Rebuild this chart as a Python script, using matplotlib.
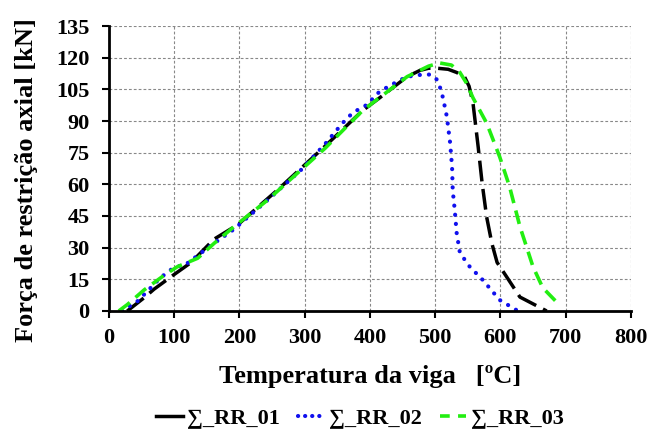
import matplotlib.pyplot as plt

plt.rcParams['font.family'] = ['Liberation Serif', 'DejaVu Serif']
plt.rcParams['font.weight'] = 'bold'
plt.rcParams['lines.scale_dashes'] = False

# temperature [C] / force [kN]
t_rr01 = [28, 54, 69, 100, 126, 161, 198, 259, 331, 389, 415, 457, 477, 490, 503, 520, 533, 545, 552, 558, 566, 572, 579, 587, 595, 610, 630, 671]
f_rr01 = [0, 6.3, 10.3, 17.3, 23, 34, 41, 57.5, 78, 95, 101, 111, 114, 115, 115, 114.5, 113, 111, 106.5, 98.6, 77.7, 60.7, 44.5, 32, 23, 16, 6.6, 0]

t_rr02 = [20, 44, 64, 79, 97, 121, 155, 191, 243, 295, 331, 358, 374, 395, 415, 441, 457, 481, 492, 498, 503, 508, 512, 518, 523, 526, 527, 530, 533, 538, 553, 573, 599, 627]
f_rr02 = [0, 4.7, 11, 15.8, 20, 22.8, 30.7, 38.6, 52.5, 67, 79, 89, 94, 97.6, 104, 108.5, 111, 112, 112, 111, 109.5, 105.5, 101, 92, 79.6, 68, 57, 48, 37, 27.5, 21, 14.7, 5.2, 0]

t_rr03 = [15, 28, 54, 85, 105, 136, 161, 192, 243, 295, 331, 389, 457, 490, 507, 525, 538, 548, 558, 579, 599, 614, 630, 650, 665, 686]
f_rr03 = [0, 3, 10, 17, 21, 25, 32, 40, 52.5, 67, 77, 95, 111, 116, 117.5, 116.5, 113, 108, 101, 89, 73, 59, 40, 21, 11, 4.3]

fig = plt.figure(figsize=(6.51, 4.38), dpi=100)
ax = fig.add_axes([0.1674, 0.290, 0.8016, 0.6506])

ax.plot(t_rr01, f_rr01, color='black', lw=2.5, ls=(0, (15, 5.5)), label='∑_RR_01')
ax.plot(t_rr02, f_rr02, color='#1010ee', lw=3.0, ls=(0, (0.1, 6.5)), dash_capstyle='round', label='∑_RR_02')
ax.plot(t_rr03, f_rr03, color='#22ee11', lw=2.6, ls=(0, (10, 5.5)), label='∑_RR_03')

ax.set_xlim(0, 800)
ax.set_ylim(0, 135)
ax.set_xticks(range(0, 801, 100))
ax.set_yticks(range(0, 136, 15))
ax.grid(True, color='#888888', ls=(0, (2, 1.5)), lw=0.8)
ax.set_axisbelow(True)
for s in ['top', 'right']:
    ax.spines[s].set_visible(False)
for s in ['left', 'bottom']:
    ax.spines[s].set_linewidth(2)
ax.tick_params(width=1.5, length=5, labelsize=16)
ax.tick_params(axis='x', pad=7)
ax.tick_params(axis='y', pad=9)
for lab in ax.get_xticklabels() + ax.get_yticklabels():
    lab.set_fontweight('bold')

ax.set_xlabel('Temperatura da viga   [ºC]', fontsize=19, fontweight='bold')
ax.set_ylabel('Força de restrição axial [kN]', fontsize=19, fontweight='bold')
ax.xaxis.set_label_coords(0.5, -0.19)
ax.yaxis.set_label_coords(-0.136, 0.46)

leg = fig.legend(loc='center', bbox_to_anchor=(0.553, 0.044), ncol=3, frameon=False,
                 prop={'size': 16, 'weight': 'bold'}, handlelength=1.2, columnspacing=0.8,
                 handletextpad=0.2)
hs = leg.legend_handles
hs[0].set_linestyle('-')
hs[1].set_linestyle((0, (0.1, 5)))
hs[2].set_linestyle((0, (7, 6)))

fig.savefig('out.png', dpi=100)
